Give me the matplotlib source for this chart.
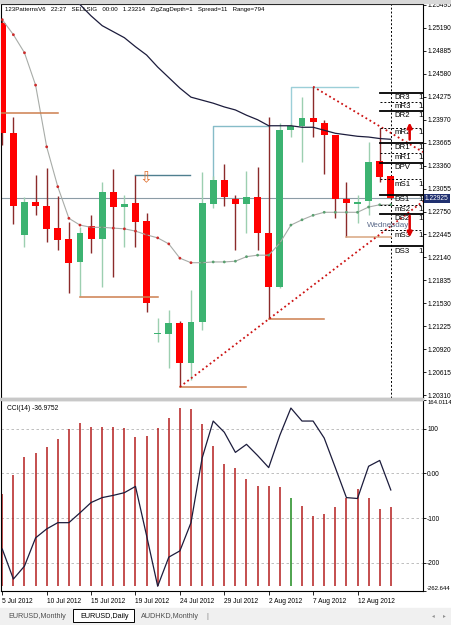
import numpy as np
import matplotlib.pyplot as plt
from matplotlib.patches import Rectangle

plt.rcParams['font.family'] = ['Liberation Sans', 'DejaVu Sans']

W, H = 452, 625

# daily EURUSD bars, 5 Jul .. 15 Aug 2012 (Sunday bars included)
opens = [1.2526, 1.2379, 1.2244, 1.2288, 1.2282, 1.2253, 1.2239, 1.2208, 1.2256, 1.2239,
         1.2301, 1.2281, 1.2286, 1.2262, 1.2112, 1.2112, 1.2127, 1.2074, 1.2128, 1.2285,
         1.2317, 1.2292, 1.2285, 1.2294, 1.2246, 1.2175, 1.2383, 1.2389, 1.2399, 1.2393,
         1.2377, 1.2292, 1.2285, 1.2289, 1.2342, 1.2322]
highs = [1.2530, 1.2401, 1.2294, 1.2324, 1.2333, 1.2296, 1.2261, 1.2254, 1.2270, 1.2314,
         1.2332, 1.2297, 1.2324, 1.2273, 1.2134, 1.2144, 1.2130, 1.2171, 1.2328, 1.2322,
         1.2338, 1.2297, 1.2329, 1.2334, 1.2401, 1.2393, 1.2393, 1.2427, 1.2441, 1.2397,
         1.2377, 1.2314, 1.2297, 1.2367, 1.2386, 1.2322]
lows = [1.2363, 1.2258, 1.2228, 1.2270, 1.2235, 1.2224, 1.2167, 1.2163, 1.2220, 1.2175,
        1.2188, 1.2228, 1.2228, 1.2142, 1.2102, 1.2067, 1.2042, 1.2051, 1.2118, 1.2280,
        1.2282, 1.2224, 1.2246, 1.2224, 1.2132, 1.2173, 1.2374, 1.2341, 1.2374, 1.2325,
        1.2266, 1.2241, 1.2260, 1.2270, 1.2314, 1.2292]
closes = [1.2379, 1.2282, 1.2288, 1.2282, 1.2252, 1.2237, 1.2207, 1.2246, 1.2239, 1.2301,
          1.2281, 1.2285, 1.2261, 1.2154, 1.2113, 1.2127, 1.2074, 1.2128, 1.2286, 1.2317,
          1.2294, 1.2285, 1.2294, 1.2246, 1.2175, 1.2383, 1.2389, 1.2399, 1.2394, 1.2377,
          1.2292, 1.2286, 1.2288, 1.2341, 1.2321, 1.22925]

nan = np.nan
ma_slow = [nan, nan, nan, nan, nan, nan, 1.2566, 1.2550, 1.2535, 1.2522,
           1.2514, 1.2506, 1.2494, 1.2483, 1.2467, 1.2453, 1.2439, 1.2427, 1.2423, 1.2419,
           1.2414, 1.2410, 1.2403, 1.2397, 1.2389, 1.2389, 1.2389, 1.2387, 1.2387, 1.2383,
           1.2379, 1.2377, 1.2375, 1.2374, 1.2372, 1.2371]
ma_dots = [1.2530, 1.2510, 1.2486, 1.2443, 1.2361, 1.2308, 1.2266, 1.2257, 1.2254, 1.2254,
           1.2253, 1.2252, 1.2249, 1.2244, 1.2240, 1.2232, 1.2213, 1.2207, 1.2207, 1.2208,
           1.2208, 1.2209, 1.2215, 1.2217, 1.2217, 1.2233, 1.2257, 1.2264, 1.2270, 1.2274,
           1.2274, 1.2274, 1.2274, 1.2281, 1.2284, 1.2284]

cci = [-169, -236, -207, -144, -124, -110, -110, -88, -65, -54,
       -49, -43, -29, -139, -252, -187, -173, -110, 34, 117,
       92, 47, 65, 40, 13, 85, 146, 117, 117, 79,
       13, -54, -56, 16, 29, -37]
cci_hist = [-45, -4, 36, 45, 58, 76, 99, 112, 103, 103,
            103, 101, 81, 83, 101, 124, 146, 144, 110, 61,
            20, 11, -13, -27, -29, -31, -54, -72, -94, -90,
            -74, -54, -34, -54, -79, -76]
hist_base = -252
green_hist_bar = 26

date_pos = [0, 4, 8, 12, 16, 20, 24, 28, 32]
date_labels = ['5 Jul 2012', '10 Jul 2012', '15 Jul 2012', '19 Jul 2012', '24 Jul 2012',
               '29 Jul 2012', '2 Aug 2012', '7 Aug 2012', '12 Aug 2012']

price_ticks = [1.25495, 1.25190, 1.24885, 1.24580, 1.24275, 1.23970, 1.23665, 1.23360,
               1.23055, 1.22750, 1.22445, 1.22140, 1.21835, 1.21530, 1.21225, 1.20920,
               1.20615, 1.20310]
cci_ticks = [164.0114, 100, 0, -100, -200, -262.644]
cci_tick_labels = ['164.0114', '100', '0.00', '-100', '-200', '-262.644']

pivot_names = ['DR3', 'mR3', 'DR2', 'mR2', 'DR1', 'mR1', 'DPV',
               'mS1', 'DS1', 'mS2', 'DS2', 'mS3', 'DS3']
pivot_levels = [1.2433, 1.2421, 1.2409, 1.2386, 1.2366, 1.2353, 1.2340,
                1.2318, 1.2297, 1.2284, 1.2272, 1.2250, 1.2229]

# 123 pattern support levels (start bar, end bar, price)
sup_start = [-1, 7, 16, 24, 31]
sup_end = [5, 14, 22, 29, 35]
sup_price = [1.2406, 1.2161, 1.2042, 1.2132, 1.2241]

header = ('123PatternsV6   22:27   SELLSIG   00:00   1.23214   ZigZagDepth=1   '
          'Spread=11   Range=794')

x = np.arange(len(closes))
o, h, l, c = map(np.array, (opens, highs, lows, closes))


def fx(px):
    return px / W


def fy(py):
    return 1 - py / H


fig = plt.figure(figsize=(W / 100, H / 100), dpi=100)
fig.patch.set_facecolor('white')

XL = (-0.07, 37.9)
ax = fig.add_axes([fx(1.5), fy(398), fx(423) - fx(1.5), fy(4) - fy(398)])
cax = fig.add_axes([fx(1.5), fy(591), fx(423) - fx(1.5), fy(400) - fy(591)])

# ---- main price panel ----
ax.set_xlim(*XL)
ax.set_ylim(1.20272, 1.25508)

ax.axhline(c[-1], color='#8c9ca6', lw=0.8, zorder=1)
ax.axvline(35, color='black', lw=0.7, ls=(0, (2, 2)), zorder=2)

up = c >= o
ax.vlines(x, l, h, colors=np.where(up, '#9ccfb0', '#8b2a2a'), lw=1, zorder=3)
body_lo = np.minimum(o, c)
body_h = np.maximum(np.abs(c - o), 0.00018)
ax.bar(x, body_h, bottom=body_lo, width=0.62,
       color=np.where(up, '#3cb371', '#ff0000'), linewidth=0, zorder=4)

# moving averages
ax.plot(x, ma_slow, color='#1c1c3c', lw=0.9, zorder=5)
ax.plot(x, ma_dots, color='#a8aca8', lw=0.8, zorder=5)
falling = np.r_[True, np.diff(ma_dots) < 0]
ax.scatter(x, ma_dots, s=4, c=np.where(falling, '#cc2a2a', '#5aa070'), zorder=6, linewidths=0)

# pattern levels
for i, (s, e, p) in enumerate(zip(sup_start, sup_end, sup_price)):
    ax.plot([s, e], [p, p], color='#d8a680' if i == 4 else '#cd7e4e', lw=1.1, zorder=5)
ax.plot([12, 16.9], [highs[12], highs[12]], color='#4f7f8f', lw=1, zorder=5)
ax.plot([19, 19, 24], [closes[19], ma_slow[24], ma_slow[24]], color='#86bcc8', lw=1, zorder=2)
ax.plot([26, 26, 32], [closes[26], highs[28], highs[28]], color='#9ccfd8', lw=1, zorder=2)
ax.text(12.9, 1.2320, '\u21e9', color='#e0702e', fontsize=11, ha='center', va='center',
        family='DejaVu Sans', zorder=6)

# zigzag trend lines
slope = (lows[24] - lows[16]) / (24 - 16)
ax.plot([16, XL[1]], [lows[16], lows[16] + slope * (XL[1] - 16)],
        color='#cc1111', lw=1.3, ls=(0, (1, 1.6)), zorder=6)
ax.plot([28, XL[1]], [highs[28], 1.2354], color='#cc1111', lw=1.3, ls=(0, (1, 1.6)), zorder=6)

# daily pivot levels
for name, lv in zip(pivot_names, pivot_levels):
    if name.startswith('m'):
        ax.plot([34, XL[1]], [lv, lv], color='black', lw=0.7, ls=(0, (2, 2)), zorder=7)
    else:
        ax.plot([34, XL[1]], [lv, lv], color='black', lw=1.3, zorder=7)
    ax.text(35.3, lv - 0.00065, name, fontsize=5.6, ha='left', va='center', zorder=8)
    ax.text(37.5, lv - 0.00065, '1', fontsize=5.6, ha='left', va='center', zorder=8)

ax.annotate('', xy=(36.7, 1.2397), xytext=(36.7, 1.2367),
            arrowprops=dict(arrowstyle='-|>', color='#dd0000', lw=1.8, mutation_scale=7), zorder=9)
ax.annotate('', xy=(36.7, 1.2237), xytext=(36.7, 1.2273),
            arrowprops=dict(arrowstyle='-|>', color='#dd0000', lw=1.8, mutation_scale=7), zorder=9)
ax.text(34.8, 1.2256, 'Wednesday', color='#5b6a8a', fontsize=5.8, ha='center', va='center', zorder=8)

ax.set_xticks([])
ax.yaxis.tick_right()
ax.set_yticks(price_ticks)
ax.set_yticklabels([f'{v:.5f}' for v in price_ticks])
ax.tick_params(axis='y', length=2, width=0.6, pad=1, labelsize=4.8)
ax.text(1.004, c[-1], f'{c[-1]:.5f}', transform=ax.get_yaxis_transform(), fontsize=4.8,
        color='white', ha='left', va='center', clip_on=False,
        bbox=dict(facecolor='#1f2f6f', edgecolor='none', pad=0.8), zorder=10)
for sp in ax.spines.values():
    sp.set_linewidth(0.8)

fig.text(fx(5), fy(10), header, fontsize=4.4, ha='left', va='center')

# ---- CCI panel ----
cax.set_xlim(*XL)
cax.set_ylim(-262.644, 164.0114)
for lv in [100, 0, -100, -200]:
    cax.axhline(lv, color='#b4b4b4', lw=0.6, ls=(0, (3, 3)), zorder=1)
hist_cols = ['#1e8a1e' if i == green_hist_bar else '#b41e1e' for i in x]
cax.vlines(x, hist_base, cci_hist, colors=hist_cols, lw=1.1, zorder=2)
cax.plot(x, cci, color='#1c1c3c', lw=0.9, zorder=3)
cax.text(0.012, 0.955, 'CCI(14) -36.9752', transform=cax.transAxes, fontsize=4.8,
         ha='left', va='center')

cax.yaxis.tick_right()
cax.set_yticks(cci_ticks)
cax.set_yticklabels(cci_tick_labels)
ylabels = cax.get_yticklabels()
ylabels[0].set_va('top')
ylabels[-1].set_va('bottom')
for lbl in (ylabels[0], ylabels[-1]):
    lbl.set_fontsize(4.3)
cax.set_xticks(date_pos)
cax.set_xticklabels(date_labels, ha='left')
cax.tick_params(axis='y', length=2, width=0.6, pad=1, labelsize=4.8)
for lbl in (ylabels[0], ylabels[-1]):
    lbl.set_fontsize(4.3)
cax.tick_params(axis='x', length=3, width=0.6, pad=2, labelsize=4.8)
for sp in cax.spines.values():
    sp.set_linewidth(0.8)

# separator between panels and top frame
fig.patches.append(Rectangle((0, fy(400)), fx(423), fy(398) - fy(400),
                             transform=fig.transFigure, color='#c8c8c8', zorder=0))
fig.patches.append(Rectangle((0, fy(3)), 1, fy(0) - fy(3),
                             transform=fig.transFigure, color='#d8d8d8', zorder=0))

# ---- chart tabs ----
fig.patches.append(Rectangle((0, 0), 1, fy(608), transform=fig.transFigure,
                             color='#f0f0f0', zorder=0))
fig.patches.append(Rectangle((fx(73), fy(622)), fx(134) - fx(73), fy(609) - fy(622),
                             transform=fig.transFigure, facecolor='white',
                             edgecolor='black', lw=0.7, zorder=1))
tab_names = ['EURUSD,Monthly', 'EURUSD,Daily', 'AUDHKD,Monthly']
tab_x = [8, 80, 141]
for name, tx in zip(tab_names, tab_x):
    fig.text(fx(tx), fy(616), name, fontsize=5.2, ha='left', va='center',
             color='black' if name == 'EURUSD,Daily' else '#505050', zorder=2)
fig.text(fx(206), fy(616), '|', fontsize=5.2, color='#808080', va='center')
fig.text(fx(432), fy(616), '\u25c2', fontsize=4, color='#909090', va='center',
         family='DejaVu Sans')
fig.text(fx(443), fy(616), '\u25b8', fontsize=4, color='#909090', va='center',
         family='DejaVu Sans')

fig.savefig('out.png', dpi=100)
